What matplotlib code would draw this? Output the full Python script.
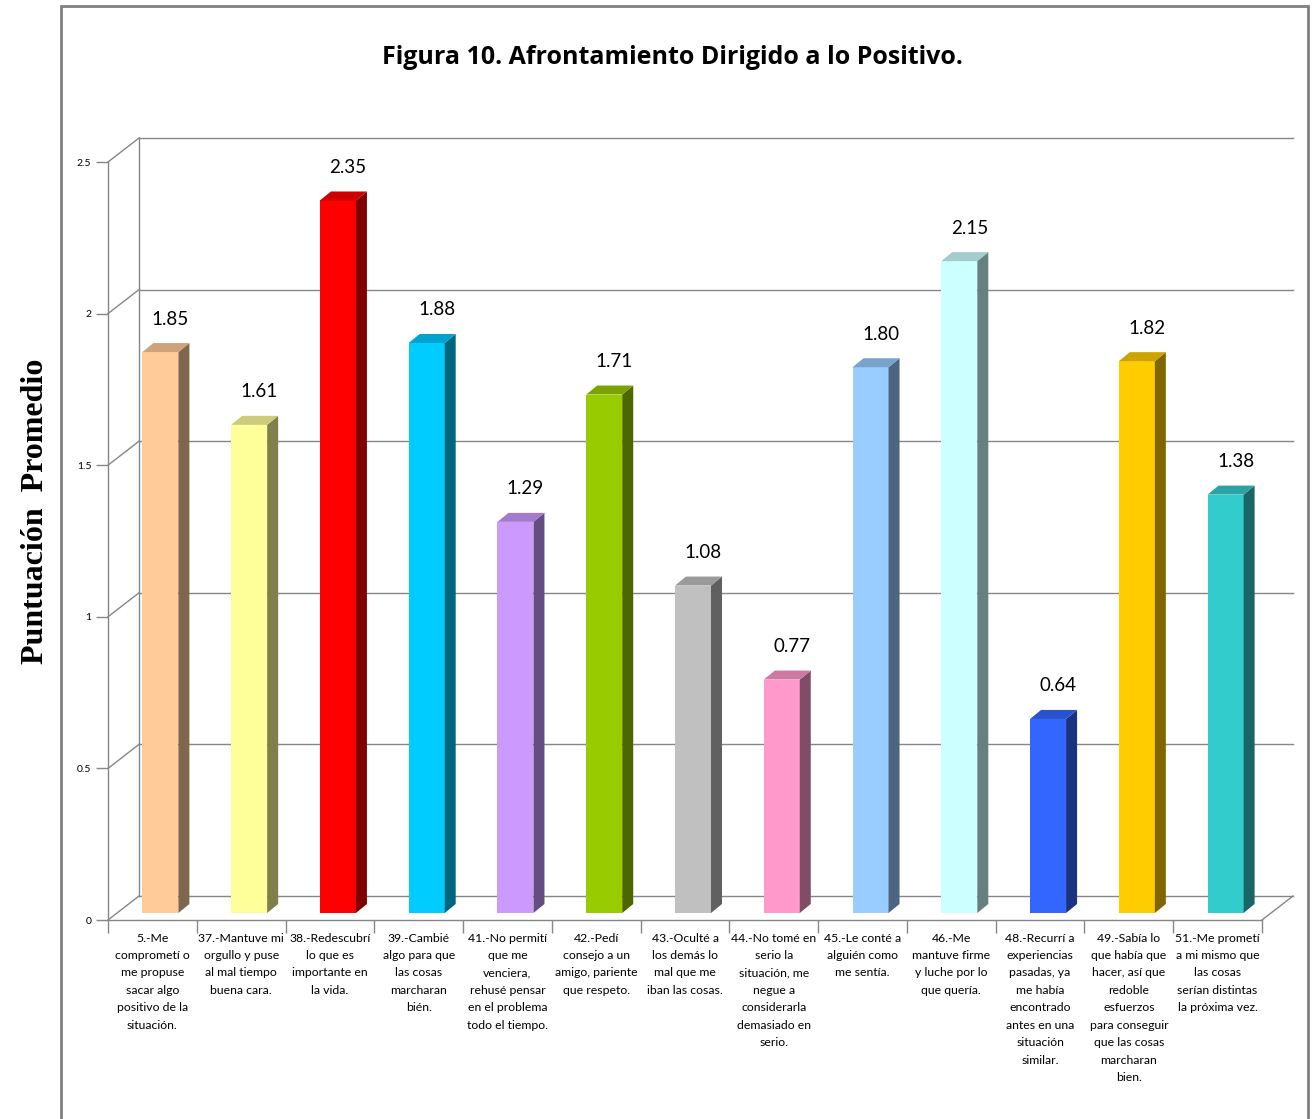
import matplotlib
matplotlib.use("Agg")
import matplotlib.pyplot as plt
from matplotlib.patches import Polygon, Rectangle
from matplotlib.colors import to_rgb

plt.rcParams['font.family'] = ['Lato', 'DejaVu Sans']

# datos
etiquetas = [
    "5.-Me\ncomprometí o\nme propuse\nsacar algo\npositivo de la\nsituación.",
    "37.-Mantuve mi\norgullo y puse\nal mal tiempo\nbuena cara.",
    "38.-Redescubrí\nlo que es\nimportante en\nla vida.",
    "39.-Cambié\nalgo para que\nlas cosas\nmarcharan\nbién.",
    "41.-No permití\nque me\nvenciera,\nrehusé pensar\nen el problema\ntodo el tiempo.",
    "42.-Pedí\nconsejo a un\namigo, pariente\nque respeto.",
    "43.-Oculté a\nlos demás lo\nmal que me\niban las cosas.",
    "44.-No tomé en\nserio la\nsituación, me\nnegue a\nconsiderarla\ndemasiado en\nserio.",
    "45.-Le conté a\nalguién como\nme sentía.",
    "46.-Me\nmantuve firme\ny luche por lo\nque quería.",
    "48.-Recurrí a\nexperiencias\npasadas, ya\nme había\nencontrado\nantes en una\nsituación\nsimilar.",
    "49.-Sabía lo\nque había que\nhacer, así que\nredoble\nesfuerzos\npara conseguir\nque las cosas\nmarcharan\nbien.",
    "51.-Me prometí\na mi mismo que\nlas cosas\nserían distintas\nla próxima vez.",
]
valores = [1.85, 1.61, 2.35, 1.88, 1.29, 1.71, 1.08, 0.77, 1.80, 2.15, 0.64, 1.82, 1.38]
colores = ['#FFCC99', '#FFFF99', '#FF0000', '#00CCFF', '#CC99FF', '#99CC00', '#C0C0C0',
           '#FF99CC', '#99CCFF', '#CCFFFF', '#3366FF', '#FFCC00', '#33CCCC']
yticks = [0, 0.5, 1, 1.5, 2, 2.5]

W, H = 1314, 1119
fig = plt.figure(figsize=(W / 100, H / 100), dpi=100)

# ejes: pared frontal en pixeles
x_izq, x_der, y_cero, y_tope = 108, 1262, 920, 162
ax = fig.add_axes([x_izq / W, 1 - y_cero / H, (x_der - x_izq) / W, (y_cero - y_tope) / H])
n = len(valores)
ax.set_xlim(0, n)
ax.set_ylim(0, 2.5)

px_x = (x_der - x_izq) / n
px_y = (y_cero - y_tope) / 2.5

# profundidad (efecto 3D)
dx, dy = 31 / px_x, 24 / px_y        # pared del fondo
fx, fy = 8 / px_x, 7 / px_y          # plano frontal de las barras
bdx, bdy = 11 / px_x, 9 / px_y       # grosor de las barras
ancho = 36 / px_x

gris = '#868686'
for v in yticks:
    ax.plot([dx, n + dx], [v + dy, v + dy], color=gris, lw=1, clip_on=False, zorder=1)
    ax.plot([0, dx], [v, v + dy], color=gris, lw=1, clip_on=False, zorder=1)
ax.plot([dx, dx], [dy, 2.5 + dy], color=gris, lw=1, clip_on=False, zorder=1)
ax.plot([n, n + dx], [0, dy], color=gris, lw=1, clip_on=False, zorder=1)


def oscurecer(c, f):
    r, g, b = to_rgb(c)
    return (r * f, g * f, b * f)


for i, (v, c) in enumerate(zip(valores, colores)):
    x0 = i + 0.5 - ancho / 2 + fx
    y0 = fy
    ax.add_patch(Rectangle((x0, y0), ancho, v, facecolor=c, edgecolor='none', zorder=3, clip_on=False))
    lado = [(x0 + ancho, y0), (x0 + ancho + bdx, y0 + bdy),
            (x0 + ancho + bdx, y0 + v + bdy), (x0 + ancho, y0 + v)]
    ax.add_patch(Polygon(lado, closed=True, facecolor=oscurecer(c, 0.5), edgecolor='none',
                         zorder=3, clip_on=False))
    techo = [(x0, y0 + v), (x0 + bdx, y0 + v + bdy),
             (x0 + ancho + bdx, y0 + v + bdy), (x0 + ancho, y0 + v)]
    ax.add_patch(Polygon(techo, closed=True, facecolor=oscurecer(c, 0.8), edgecolor='none',
                         zorder=3, clip_on=False))
    ax.text(x0 + ancho / 2 + 10 / px_x, y0 + v + bdy + 24 / px_y, f"{v:.2f}",
            ha='center', va='center', fontsize=13.5, color='black', clip_on=False)

# ejes y marcas
for s in ['top', 'right']:
    ax.spines[s].set_visible(False)
for s in ['left', 'bottom']:
    ax.spines[s].set_color(gris)
    ax.spines[s].set_linewidth(1)
ax.patch.set_visible(False)

ax.set_yticks(yticks)
ax.set_yticklabels(['0', '0.5', '1', '1.5', '2', '2.5'], fontsize=7.5)
ax.tick_params(axis='y', length=9, color=gris, width=1, pad=3)

ax.set_xticks(range(n + 1))
ax.set_xticklabels([])
ax.tick_params(axis='x', which='major', length=9, color=gris, width=1)
ax.set_xticks([i + 0.5 for i in range(n)], minor=True)
ax.set_xticklabels(etiquetas, minor=True, fontsize=8.8, linespacing=1.72, va='top', ha='center')
ax.tick_params(axis='x', which='minor', length=0, pad=9)

# titulo y etiqueta del eje
fig.text(672 / W, 1 - 58 / H, "Figura 10. Afrontamiento Dirigido a lo Positivo.",
         ha='center', va='center', fontsize=18, fontweight='bold', family='Open Sans')
fig.text(36 / W, 1 - 511 / H, "Puntuación  Promedio", rotation=90, ha='center', va='center',
         fontsize=23, fontweight='bold', family='Liberation Serif')

# marco exterior
fig.add_artist(Rectangle((61 / W, -0.01), (1308 - 61) / W, 1.01 - 6 / H,
                         transform=fig.transFigure, fill=False, edgecolor='#808080', lw=2))

fig.savefig("out.png", dpi=100)
